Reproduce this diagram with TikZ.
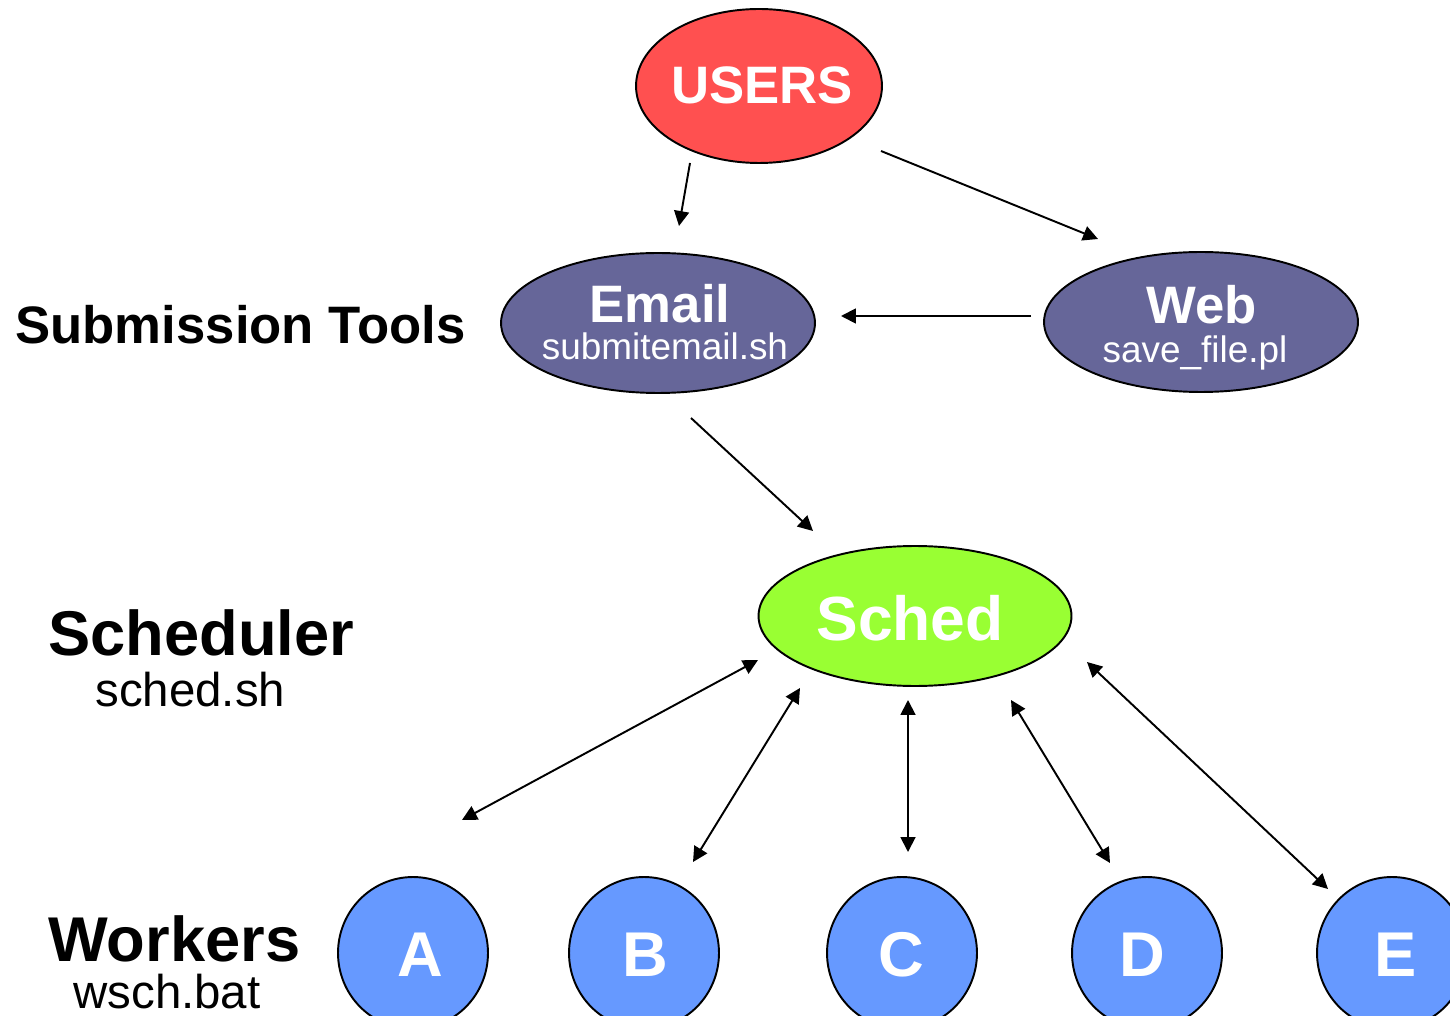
\documentclass[tikz,border=0pt]{standalone}
\usepackage{fontspec}
\setmainfont{Liberation Sans}
\usetikzlibrary{shapes.geometric,arrows.meta}
\definecolor{usersred}{HTML}{FF5050}
\definecolor{toolblue}{HTML}{666699}
\definecolor{schedgreen}{HTML}{99FF33}
\definecolor{workerblue}{HTML}{6699FF}
\newcommand{\fsz}[1]{\fontsize{#1}{#1}\selectfont}
\tikzset{
  blob/.style={ellipse, draw=black, line width=1.1pt, inner sep=0pt},
  toolnode/.style={blob, fill=toolblue, minimum width=6.28cm, minimum height=2.8cm},
  worker/.style={blob, fill=workerblue, minimum width=3cm, minimum height=3.04cm},
  letter/.style={inner sep=0pt, text=white, font=\fsz{36}\bfseries},
  lbl/.style={inner sep=0pt, anchor=base},
  lblw/.style={inner sep=0pt, anchor=base west},
  tip/.tip={Triangle[length=8.5pt,width=8.5pt]},
  conn/.style={line width=1.1pt, -tip},
  biconn/.style={line width=1.1pt, tip-tip}
}
\begin{document}
\begin{tikzpicture}[x=0.02cm, y=-0.02cm]
\useasboundingbox (0,0) rectangle (1450,1016);
\begin{scope}
\clip (0,0) rectangle (1450,1016);
% main nodes
\node[blob, fill=usersred, minimum width=4.92cm, minimum height=3.08cm] (users) at (759,86) {};
\node[lbl, text=white, font=\fsz{30}\bfseries] (userst) at (762,104) {USERS};
\node[toolnode] (email) at (658,323) {};
\node[lbl, text=white, font=\fsz{30}\bfseries] (emailt) at (660,323) {Email};
\node[lbl, text=white, font=\fsz{21}] (emails) at (665,360) {submitemail.sh};
\node[toolnode] (web) at (1201,322) {};
\node[lbl, text=white, font=\fsz{30}\bfseries] (webt) at (1202,324) {Web};
\node[lbl, text=white, font=\fsz{21}] (webs) at (1195,363) {save\_file.pl};
\node[blob, fill=schedgreen, minimum width=6.26cm, minimum height=2.8cm] (sched) at (915,616) {};
\node[lbl, text=white, font=\fsz{35.5}\bfseries] (schedt) at (910,640) {Sched};
% workers
\node[worker] (A) at (413,953) {};
\node[worker] (B) at (644,953) {};
\node[worker] (C) at (902,953) {};
\node[worker] (D) at (1147,953) {};
\node[worker] (E) at (1392,953) {};
\node[letter] (At) at (420,955) {A};
\node[letter] (Bt) at (645,955) {B};
\node[letter] (Ct) at (901,955) {C};
\node[letter] (Dt) at (1142,955) {D};
\node[letter] (Et) at (1396,955) {E};
% left labels
\node[lblw, font=\fsz{30}\bfseries] (subtools) at (15,344) {Submission Tools};
\node[lblw, font=\fsz{36}\bfseries] (schedlbl) at (48,655) {Scheduler};
\node[lblw, font=\fsz{27}] (schedsh) at (95,706) {sched.sh};
\node[lblw, font=\fsz{36}\bfseries] (workerslbl) at (48,961) {Workers};
\node[lblw, font=\fsz{27}] (wschbat) at (73,1008) {wsch.bat};
% connector end points
\coordinate (ue1) at (690,163);
\coordinate (ue2) at (679,226);
\coordinate (uw1) at (881,151);
\coordinate (uw2) at (1098,239);
\coordinate (we1) at (1031,316);
\coordinate (we2) at (841,316);
\coordinate (es1) at (691,418);
\coordinate (es2) at (813,531);
\coordinate (sa1) at (758,660);
\coordinate (sa2) at (462,820);
\coordinate (sb1) at (800,688);
\coordinate (sb2) at (693,862);
\coordinate (sc1) at (908,700);
\coordinate (sc2) at (908,852);
\coordinate (sd1) at (1011,700);
\coordinate (sd2) at (1110,863);
\coordinate (se1) at (1087,662);
\coordinate (se2) at (1328,889);
% connectors
\draw[conn] (ue1) -- (ue2);
\draw[conn] (uw1) -- (uw2);
\draw[conn] (we1) -- (we2);
\draw[conn] (es1) -- (es2);
\draw[biconn] (sa1) -- (sa2);
\draw[biconn] (sb1) -- (sb2);
\draw[biconn] (sc1) -- (sc2);
\draw[biconn] (sd1) -- (sd2);
\draw[biconn] (se1) -- (se2);
\end{scope}
\end{tikzpicture}
\end{document}
